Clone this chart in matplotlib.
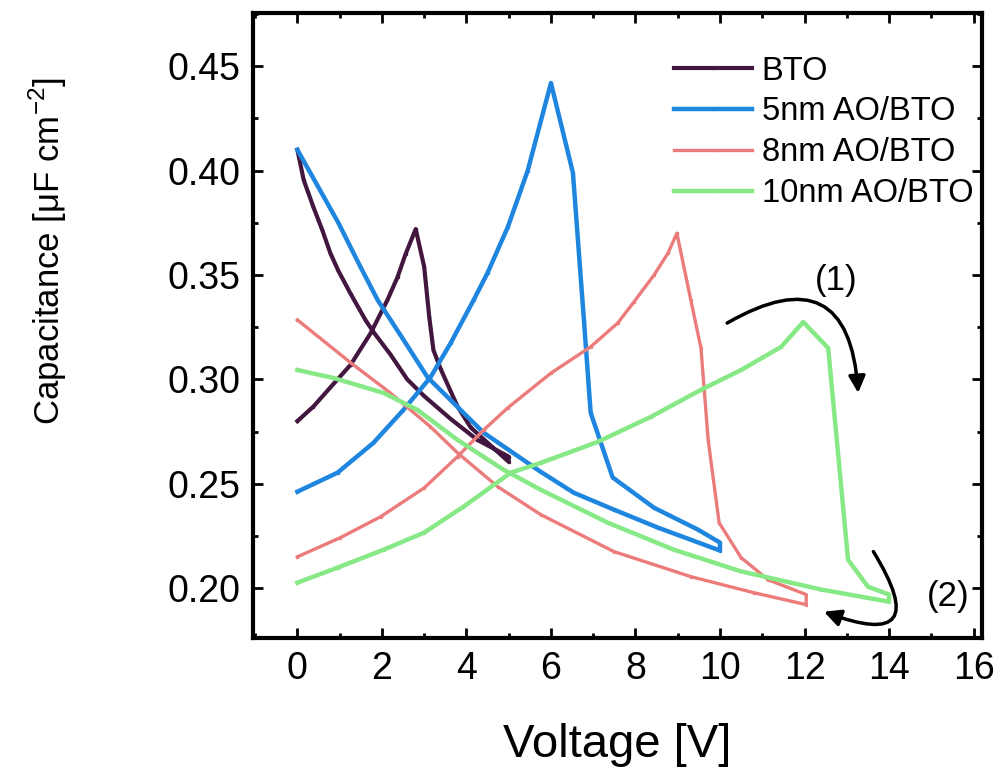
import matplotlib
matplotlib.use("Agg")
import matplotlib.pyplot as plt
from matplotlib.ticker import MultipleLocator, FormatStrFormatter

plt.rcParams['font.family'] = ['Liberation Sans', 'DejaVu Sans']
plt.rcParams['mathtext.fontset'] = 'custom'
plt.rcParams['mathtext.rm'] = 'Liberation Sans'

# ---- data ----
# BTO: rising branch (0 -> 5 V) then returning branch (5 -> 0 V)
bto_up_v = [0, 0.38, 0.95, 1.26, 1.73, 2.13, 2.37, 2.56, 2.8, 3.0, 3.12, 3.22, 3.39, 3.79, 4.1, 5.0]
bto_up_c = [0.280, 0.287, 0.300, 0.307, 0.322, 0.338, 0.349, 0.360, 0.372, 0.354, 0.330, 0.314, 0.305, 0.287, 0.277, 0.2605]
bto_dn_v = [5.0, 4.26, 3.63, 3.0, 2.6, 2.2, 1.8, 1.61, 1.26, 0.97, 0.78, 0.59, 0.38, 0.15, 0]
bto_dn_c = [0.263, 0.271, 0.281, 0.292, 0.300, 0.312, 0.3227, 0.3285, 0.341, 0.352, 0.3605, 0.3715, 0.3825, 0.3955, 0.410]

# 5nm AO/BTO
ao5_up_v = [0, 0.95, 1.8, 2.51, 3.15, 3.63, 4.17, 4.5, 4.98, 5.45, 6.0, 6.52, 6.78, 6.94, 7.46, 8.44, 9.48, 10.0]
ao5_up_c = [0.2462, 0.2553, 0.2696, 0.2854, 0.301, 0.3175, 0.338, 0.351, 0.373, 0.400, 0.442, 0.399, 0.3285, 0.284, 0.253, 0.2385, 0.228, 0.2218]
ao5_dn_v = [10.0, 8.53, 7.49, 6.54, 5.76, 4.41, 3.63, 3.08, 2.51, 1.9, 1.49, 0.97, 0]
ao5_dn_c = [0.218, 0.229, 0.2376, 0.2457, 0.2557, 0.2744, 0.290, 0.301, 0.319, 0.338, 0.354, 0.375, 0.410]

# 8nm AO/BTO
ao8_up_v = [0, 1.02, 1.97, 3.0, 3.79, 4.41, 4.98, 6.0, 6.94, 7.58, 7.96, 8.44, 8.77, 8.98, 9.31, 9.55, 9.72, 9.98, 10.5, 11.14, 12.04]
ao8_up_c = [0.215, 0.2242, 0.2342, 0.248, 0.263, 0.2758, 0.2864, 0.303, 0.3156, 0.327, 0.337, 0.350, 0.3605, 0.370, 0.338, 0.315, 0.271, 0.2313, 0.2146, 0.204, 0.1969]
ao8_dn_v = [12.04, 10.8, 9.31, 7.49, 5.76, 4.74, 3.79, 3.15, 2.2, 1.26, 0]
ao8_dn_c = [0.1921, 0.1978, 0.2055, 0.2175, 0.2352, 0.2486, 0.2648, 0.2773, 0.2935, 0.308, 0.3285]

# 10nm AO/BTO
ao10_up_v = [0, 0.95, 2.04, 3.0, 3.93, 5.05, 5.76, 7.1, 8.36, 9.55, 10.5, 11.45, 11.97, 12.56, 13.03, 13.5, 14.0]
ao10_up_c = [0.2026, 0.2098, 0.2184, 0.2266, 0.239, 0.2553, 0.260, 0.270, 0.282, 0.295, 0.3045, 0.3156, 0.3275, 0.315, 0.2136, 0.2007, 0.1969]
ao10_dn_v = [14.0, 12.4, 10.5, 8.91, 7.35, 5.76, 4.88, 3.79, 2.84, 2.04, 0.85, 0]
ao10_dn_c = [0.1935, 0.1993, 0.208, 0.2184, 0.2313, 0.2471, 0.2567, 0.271, 0.2854, 0.2935, 0.3007, 0.3045]

labels = ['BTO', '5nm AO/BTO', '8nm AO/BTO', '10nm AO/BTO']
colors = ['#43163f', '#1f86e0', '#ec7b7b', '#86e986']
widths = [3.0, 3.2, 2.4, 3.2]

series = [
    (bto_up_v + bto_dn_v, bto_up_c + bto_dn_c),
    (ao5_up_v + ao5_dn_v, ao5_up_c + ao5_dn_c),
    (ao8_up_v + ao8_dn_v, ao8_up_c + ao8_dn_c),
    (ao10_up_v + ao10_dn_v, ao10_up_c + ao10_dn_c),
]

fig = plt.figure(figsize=(10, 7.68), dpi=100)
ax = fig.add_axes([0.253, 0.169, 0.729, 0.814])

for (v, c), lab, col, lw in zip(series, labels, colors, widths):
    ax.plot(v, c, color=col, lw=lw, label=lab, marker='.', markersize=3,
            solid_joinstyle='round')

ax.set_xlim(-1.05, 16.2)
ax.set_ylim(0.176, 0.4755)
ax.xaxis.set_major_locator(MultipleLocator(2))
ax.xaxis.set_minor_locator(MultipleLocator(1))
ax.yaxis.set_major_locator(MultipleLocator(0.05))
ax.yaxis.set_minor_locator(MultipleLocator(0.025))
ax.yaxis.set_major_formatter(FormatStrFormatter('%.2f'))

ax.tick_params(which='both', direction='in', top=True, right=True, width=2.0)
ax.tick_params(which='major', length=7, labelsize=27, pad=9)
ax.tick_params(which='minor', length=3.5)
for s in ax.spines.values():
    s.set_linewidth(3.0)

ax.set_xlabel('Voltage [V]', fontsize=34)
ax.xaxis.set_label_coords(0.5, -0.135)
ax.set_ylabel('Capacitance [μF cm$^{\\mathregular{-2}}$]', fontsize=25)
ax.yaxis.set_label_coords(-0.252, 0.62)

leg = ax.legend(loc='upper left', bbox_to_anchor=(0.577, 0.932), frameon=False,
                fontsize=23.5, handlelength=2.4, handletextpad=0.3,
                labelspacing=0.3, borderpad=0, borderaxespad=0)

# annotations
ax.text(12.75, 0.3476, '(1)', fontsize=25, ha='center', va='center')
ax.text(15.4, 0.196, '(2)', fontsize=25, ha='center', va='center')
ax.annotate('', xy=(13.27, 0.2935), xytext=(10.17, 0.327),
            arrowprops=dict(arrowstyle='-|>', color='black', lw=2.5,
                            mutation_scale=25, connectionstyle='arc3,rad=-0.8',
                            shrinkA=0, shrinkB=0))
ax.annotate('', xy=(12.46, 0.1887), xytext=(13.63, 0.2175),
            arrowprops=dict(arrowstyle='-|>', color='black', lw=2.5,
                            mutation_scale=25, connectionstyle='arc3,rad=-1.45',
                            shrinkA=0, shrinkB=0))

fig.savefig('out.png', dpi=100)
